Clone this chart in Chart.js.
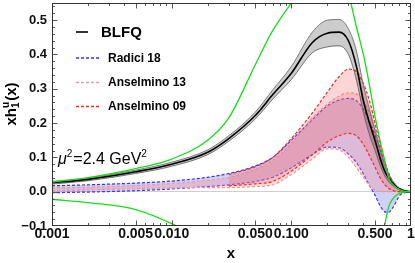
<!DOCTYPE html>
<html>
<head>
<meta charset="utf-8">
<script src="https://cdn.jsdelivr.net/npm/chart.js@4.4.0/dist/chart.umd.min.js"></script>
<style>
  html, body { margin: 0; padding: 0; background: #fff; }
  #wrap { width: 415px; height: 263px; }
</style>
</head>
<body>
<div id="wrap"><canvas id="h1Chart" width="415" height="263"></canvas></div>
<script>
// x grid shared by every curve
const xVals = [0.001, 0.002, 0.005, 0.01, 0.02, 0.03, 0.05, 0.07, 0.1, 0.15, 0.2, 0.25, 0.3, 0.35, 0.4, 0.45, 0.5, 0.55, 0.6, 0.65, 0.7, 0.75, 0.8, 0.9, 1];

// BLFQ central line and its band
const blfq   = [0.026, 0.036, 0.058, 0.08, 0.115, 0.155, 0.222, 0.283, 0.345, 0.435, 0.462, 0.465, 0.44, 0.365, 0.265, 0.2, 0.15, 0.1, 0.062, 0.04, 0.025, 0.015, 0.008, 0.002, 0];
const blfqHi = [0.03, 0.04, 0.063, 0.086, 0.122, 0.163, 0.232, 0.297, 0.365, 0.465, 0.5, 0.502, 0.475, 0.41, 0.31, 0.24, 0.18, 0.125, 0.08, 0.052, 0.033, 0.02, 0.011, 0.003, 0];
const blfqLo = [0.022, 0.032, 0.053, 0.074, 0.108, 0.147, 0.212, 0.27, 0.327, 0.405, 0.422, 0.425, 0.4, 0.325, 0.23, 0.165, 0.12, 0.078, 0.047, 0.029, 0.018, 0.011, 0.005, 0.001, 0];

// green bound lines
const boundHi = [0.028, 0.041, 0.067, 0.095, 0.15, 0.215, 0.37, 0.47, 0.55, 0.63, 0.68, 0.68, 0.58, 0.48, 0.4, 0.31, 0.22, 0.15, 0.095, 0.04, 0.022, 0.012, 0.006, 0.001, 0];
const boundLo = [-0.022, -0.032, -0.052, -0.093, -0.15, -0.2, -0.28, -0.34, -0.4, -0.45, -0.47, -0.46, -0.43, -0.39, -0.34, -0.28, -0.21, -0.15, -0.1, -0.045, -0.022, -0.011, -0.005, -0.001, 0];

// extraction bands
const radiciHi = [0.017, 0.02, 0.025, 0.031, 0.042, 0.053, 0.075, 0.1, 0.15, 0.21, 0.25, 0.267, 0.272, 0.265, 0.24, 0.205, 0.165, 0.125, 0.088, 0.055, 0.03, 0.015, 0.006, 0.001, 0];
const radiciLo = [-0.003, -0.001, 0.003, 0.008, 0.015, 0.02, 0.03, 0.042, 0.07, 0.108, 0.13, 0.128, 0.11, 0.085, 0.052, 0.018, -0.01, -0.04, -0.058, -0.06, -0.048, -0.03, -0.012, -0.002, 0];
const ans13Hi  = [0.011, 0.013, 0.018, 0.024, 0.033, 0.041, 0.065, 0.09, 0.14, 0.215, 0.255, 0.278, 0.288, 0.285, 0.265, 0.23, 0.18, 0.13, 0.085, 0.05, 0.028, 0.014, 0.006, 0.001, 0];
const ans13Lo  = [0.003, 0.005, 0.009, 0.011, 0.012, 0.012, 0.015, 0.02, 0.05, 0.095, 0.125, 0.122, 0.1, 0.07, 0.042, 0.018, 0.005, 0, 0, 0, 0, 0, 0, 0, 0];
const ans09Hi  = [null, null, null, null, null, 0.05, 0.073, 0.1, 0.155, 0.23, 0.29, 0.335, 0.357, 0.35, 0.315, 0.265, 0.2, 0.14, 0.09, 0.052, 0.028, 0.014, 0.006, 0.001, 0];
const ans09Lo  = [null, null, null, null, null, 0.017, 0.023, 0.03, 0.06, 0.108, 0.145, 0.163, 0.17, 0.163, 0.138, 0.105, 0.072, 0.042, 0.022, 0.01, 0.004, 0.001, 0, 0, 0];

const yTicks = [-0.1, 0, 0.1, 0.2, 0.3, 0.4, 0.5];
const xTicks = [0.001, 0.005, 0.01, 0.05, 0.1, 0.5, 1];
const xTickLabels = ["0.001", "0.005", "0.010", "0.050", "0.100", "0.500", "1"];
const legendNames = ["BLFQ", "Radici 18", "Anselmino 13", "Anselmino 09"];

const FONT = "'Liberation Sans', Arial, sans-serif";

function pts(ys) {
  return xVals.map((x, i) => ({ x: x, y: ys[i] })).filter((p) => p.y !== null);
}

function line(data, color, width, dash, fill, bg) {
  return {
    data: pts(data),
    borderColor: color,
    borderWidth: width,
    borderDash: dash || [],
    backgroundColor: bg || "transparent",
    fill: fill || false,
    pointRadius: 0,
    cubicInterpolationMode: "monotone",
  };
}

// inward frame ticks, frame, legend and free text
const decorations = {
  id: "decorations",
  afterDraw(chart) {
    const ctx = chart.ctx;
    const a = chart.chartArea;
    const xs = chart.scales.x;
    const ys = chart.scales.y;
    const L = Math.round(a.left) + 0.5, R = Math.round(a.right) - 0.5;
    const T = Math.round(a.top) + 0.5, B = Math.round(a.bottom) - 0.5;
    ctx.save();
    ctx.strokeStyle = "#555";
    ctx.lineWidth = 1;
    ctx.beginPath();
    // y ticks, major every 0.1, minor every 0.02
    for (let k = -5; k <= 27; k++) {
      const v = k * 0.02;
      const py = Math.round(ys.getPixelForValue(v)) + 0.5;
      if (py < T || py > B) continue;
      const len = k % 5 === 0 ? 5 : 2.5;
      ctx.moveTo(L, py); ctx.lineTo(L + len, py);
      ctx.moveTo(R, py); ctx.lineTo(R - len, py);
    }
    // x ticks on log scale
    for (let e = -3; e < 0; e++) {
      for (let m = 1; m <= 9; m++) {
        const v = m * Math.pow(10, e);
        const px = Math.round(xs.getPixelForValue(v)) + 0.5;
        const len = (m === 1 || m === 5) ? 5 : 2.5;
        ctx.moveTo(px, B); ctx.lineTo(px, B - len);
        ctx.moveTo(px, T); ctx.lineTo(px, T + len);
      }
    }
    ctx.stroke();
    ctx.strokeStyle = "#333";
    ctx.strokeRect(L, T, R - L, B - T);

    // legend
    const rows = [
      { y: 32, color: "#000", dash: [], len: 12, font: "bold 15px " + FONT, tx: 101 },
      { y: 58, color: "#3030ff", dash: [3, 2], len: 23, font: "bold 12px " + FONT, tx: 108 },
      { y: 82.5, color: "#f29a9a", dash: [3, 2], len: 23, font: "bold 12px " + FONT, tx: 108 },
      { y: 106.5, color: "#ec2a2a", dash: [3, 2], len: 23, font: "bold 12px " + FONT, tx: 108 },
    ];
    rows.forEach((r, i) => {
      ctx.beginPath();
      ctx.setLineDash(r.dash);
      ctx.strokeStyle = r.color;
      ctx.lineWidth = i === 0 ? 1.6 : 1.3;
      ctx.moveTo(76, r.y); ctx.lineTo(76 + r.len, r.y);
      ctx.stroke();
      ctx.setLineDash([]);
      ctx.fillStyle = "#000";
      ctx.font = r.font;
      ctx.textBaseline = "middle";
      ctx.textAlign = "left";
      ctx.fillText(legendNames[i], r.tx, r.y + 0.5);
    });

    // mu^2 label
    ctx.fillStyle = "#000";
    ctx.textBaseline = "alphabetic";
    let x = 58;
    const base = 164;
    ctx.font = "italic 16px " + FONT;
    ctx.fillText("\u03bc", x, base); x += ctx.measureText("\u03bc").width;
    ctx.font = "10px " + FONT;
    ctx.fillText("2", x, base - 7); x += ctx.measureText("2").width + 1;
    ctx.font = "16px " + FONT;
    ctx.fillText("=2.4 GeV", x, base); x += ctx.measureText("=2.4 GeV").width;
    ctx.font = "10px " + FONT;
    ctx.fillText("2", x, base - 7);

    // x title
    ctx.font = "bold 15px " + FONT;
    ctx.textAlign = "center";
    ctx.textBaseline = "middle";
    ctx.fillText("x", 231, 254);

    // y title: x h_1^u (x), rotated
    ctx.translate(11, 104);
    ctx.rotate(-Math.PI / 2);
    ctx.textAlign = "left";
    ctx.textBaseline = "alphabetic";
    const big = "bold 15px " + FONT, small = "bold 10px " + FONT;
    ctx.font = big;
    const w1 = ctx.measureText("xh").width;
    ctx.font = small;
    const w2 = ctx.measureText("u").width;
    ctx.font = big;
    const w3 = ctx.measureText("(x)").width;
    let cx = -(w1 + w2 + 1 + w3) / 2;
    const by = 5;
    ctx.fillText("xh", cx, by); cx += w1;
    ctx.font = small;
    ctx.fillText("u", cx, by - 7);
    ctx.fillText("1", cx, by + 3); cx += w2 + 1;
    ctx.font = big;
    ctx.fillText("(x)", cx, by);
    ctx.restore();
  },
};

const ctx = document.getElementById("h1Chart").getContext("2d");
new Chart(ctx, {
  type: "line",
  data: {
    datasets: [
      line(boundHi, "#14e014", 1.3),
      line(boundLo, "#14e014", 1.3),
      line(blfq, "#000", 1.6),
      line(blfqHi, "#6e6e6e", 0.9, [], "+1", "rgba(0,0,0,0.2)"),
      line(blfqLo, "#6e6e6e", 0.9),
      line(ans09Hi, "#ec2a2a", 1.2, [3, 2], "+1", "rgba(240,90,90,0.25)"),
      line(ans09Lo, "#ec2a2a", 1.2, [3, 2]),
      line(ans13Hi, "#f29a9a", 1.2, [3, 2], "+1", "rgba(250,130,130,0.28)"),
      line(ans13Lo, "#f29a9a", 1.2, [3, 2]),
      line(radiciHi, "#3030ff", 1.2, [3, 2], "+1", "rgba(100,100,235,0.3)"),
      line(radiciLo, "#3030ff", 1.2, [3, 2]),
    ],
  },
  options: {
    responsive: false,
    animation: false,
    layout: { padding: { left: 0, right: 4, top: 3, bottom: 0 } },
    plugins: { legend: { display: false }, tooltip: { enabled: false } },
    scales: {
      x: {
        type: "logarithmic",
        min: 0.001,
        max: 1,
        afterBuildTicks: (s) => { s.ticks = xTicks.map((v) => ({ value: v })); },
        afterFit: (s) => { s.height = 37; s.paddingLeft = 0; s.paddingRight = 0; },
        border: { display: false },
        grid: { display: false, drawTicks: false },
        ticks: {
          autoSkip: false,
          maxRotation: 0,
          padding: 0,
          color: "#111",
          font: { family: FONT, size: 14, weight: "bold" },
          callback: (v) => xTickLabels[xTicks.indexOf(v)] || "",
        },
      },
      y: {
        min: -0.1,
        max: 0.55,
        afterBuildTicks: (s) => { s.ticks = yTicks.map((v) => ({ value: v })); },
        afterFit: (s) => { s.width = 52; s.paddingTop = 0; s.paddingBottom = 0; },
        border: { display: false },
        grid: {
          drawTicks: false,
          color: (c) => (c.tick && Math.abs(c.tick.value) < 1e-9 ? "#cfcfcf" : "transparent"),
          lineWidth: 1,
        },
        ticks: {
          padding: 5,
          color: "#111",
          font: { family: FONT, size: 13, weight: "bold" },
          callback: (v) => v.toFixed(1).replace("-", "\u2212"),
        },
      },
    },
  },
  plugins: [decorations],
});
</script>
</body>
</html>
